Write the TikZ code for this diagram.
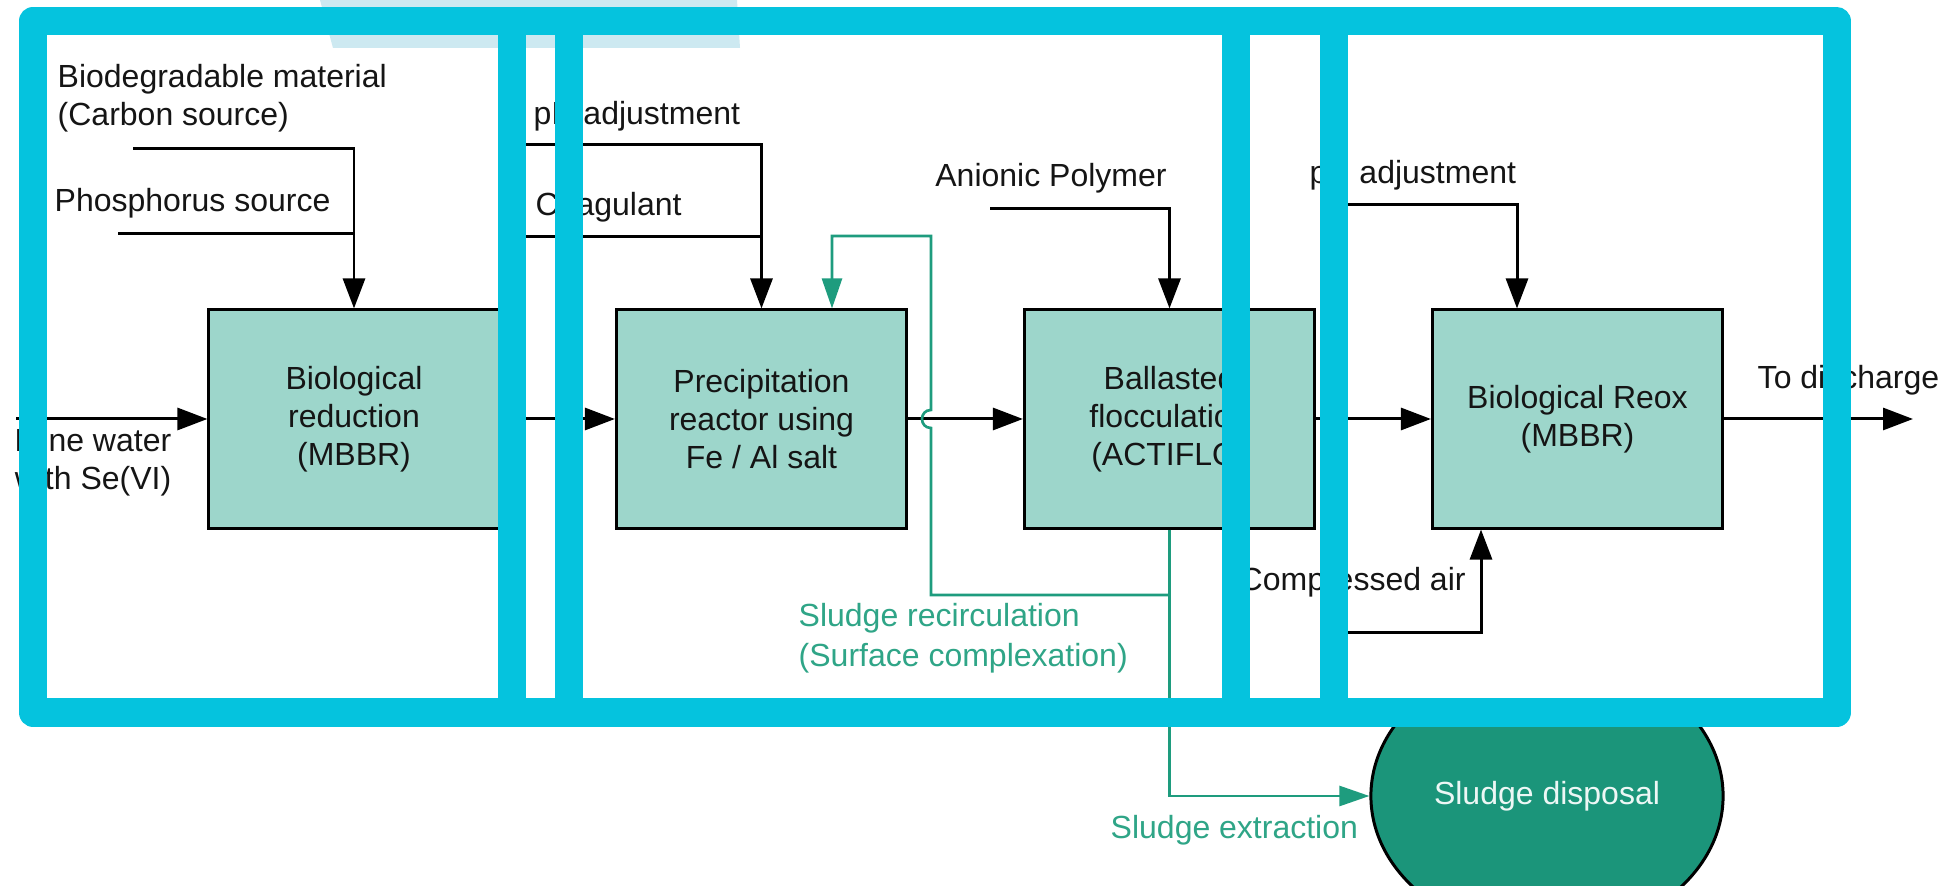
\documentclass[tikz,border=0pt]{standalone}
\usepackage{fontspec}
\setmainfont{Liberation Sans}
\usetikzlibrary{arrows.meta,calc,shapes.geometric}
\definecolor{cyanf}{HTML}{05C3DE}
\definecolor{lightp}{HTML}{CDE9F1}
\definecolor{boxfill}{HTML}{9DD6CB}
\definecolor{gline}{HTML}{1E9C7E}
\definecolor{gtext}{HTML}{2FA587}
\definecolor{sdfill}{HTML}{1B957A}
\definecolor{txt}{HTML}{151515}
\newcommand\dgfont{\fontsize{9.1}{10.8}\selectfont}
\newcommand\dgfontg{\fontsize{9.1}{11.4}\selectfont}
\begin{document}
\begin{tikzpicture}[x=0.01cm,y=-0.01cm,
  box/.style={draw=black, line width=0.85pt, fill=boxfill, minimum width=2.9cm, minimum height=2.18cm, align=center, font=\dgfont, text=txt, inner sep=0pt},
  lbl/.style={font=\dgfont, text=txt, inner sep=0pt},
  glbl/.style={font=\dgfontg, text=gtext, inner sep=0pt},
  ln/.style={line width=0.85pt, draw=black},
  arr/.style={ln, -{Triangle[length=0.3cm,width=0.22cm]}},
  gln/.style={draw=gline, line width=0.75pt},
  garr/.style={gln, -{Triangle[length=0.3cm,width=0.2cm]}},
  band/.style={draw=cyanf, line width=0.28cm}
]
\useasboundingbox[fill=white] (0,0) rectangle (1960,886);
% light patch at top
\fill[lightp] (320,0) -- (737,0) -- (740,48) -- (333,48) -- cycle;

% boxes
\node[box] (b1) at (354,419) {Biological\\reduction\\(MBBR)};
\node[box] (b2) at (761.5,419) {Precipitation\\reactor using\\Fe / Al salt};
\node[box] (b3) at (1169.5,419) {Ballasted\\flocculation\\(ACTIFLO)};
\node[box] (b4) at (1577.5,419) {Biological Reox\\(MBBR)};

% sludge disposal (top hidden)
\begin{scope}
\clip (0,705) rectangle (1960,886);
\node[ellipse, draw=black, line width=0.85pt, fill=sdfill, minimum width=3.52cm, minimum height=2.8cm, inner sep=0pt, font=\dgfont, text=white!92!gline] (sd) at (1547,796) {Sludge disposal};
\end{scope}

% inlet
\node[lbl, align=center] (mw) at (93,462.5) {Mine water\\with Se(VI)};
\coordinate (in) at (16,419);
\draw[arr] (in) -- (b1.west);

% box1 inputs
\node[lbl, align=left, anchor=west] (bm) at (57,98) {Biodegradable material\\(Carbon source)};
\node[lbl, anchor=west] (ps) at (54,203) {Phosphorus source};
\coordinate (c1) at (133,149);
\coordinate (p1) at (118,234);
\draw[arr] (c1) -| (b1.north);
\draw[ln] (p1) -- (p1 -| b1.north);

% box2 inputs
\node[lbl, anchor=west] (ph1) at (533,116) {pH adjustment};
\node[lbl, anchor=west] (co) at (535,207) {Coagulant};
\coordinate (c2) at (505,145);
\coordinate (c3) at (505,237);
\draw[arr] (c2) -| (b2.north);
\draw[ln] (c3) -- (c3 -| b2.north);

% box3 input
\node[lbl] (ap) at (1051,178) {Anionic Polymer};
\coordinate (c4) at (990,209);
\draw[arr] (c4) -| (b3.north);

% box4 inputs
\node[lbl, anchor=west] (ph2) at (1309,175) {pH adjustment};
\coordinate (c5) at (1330,205);
\coordinate (t4) at (1517,0);
\draw[arr] (c5) -| (t4 |- b4.north);
\node[lbl, anchor=west] (ca) at (1239,582) {Compressed air};
\coordinate (c6) at (1335,633);
\coordinate (t5) at (1481,0);
\draw[arr] (c6) -| (t5 |- b4.south);

% main flow
\draw[arr] (b1) -- (b2);
\draw[arr] (b2) -- (b3);
\draw[arr] (b3) -- (b4);
\node[lbl, anchor=west] (td) at (1757,380) {To discharge};
\coordinate (out) at (1913,419);
\draw[arr] (b4.east) -- (out);

% sludge lines
\draw[garr] (b3.south) |- (sd);
\coordinate (g1) at (1169.5,595);
\coordinate (gx) at (832,0);
\draw[garr] (g1) -- (931,595) -- (931,428) .. controls (919,428) and (919,410) .. (931,410) -- (931,236) -| (gx |- b2.north);
\node[glbl, align=left, anchor=west] (sr) at (798,638) {Sludge recirculation\\(Surface complexation)};
\node[glbl, anchor=west] (se) at (1110,830) {Sludge extraction};

% cyan overlay frame
\draw[band, line join=round] (33,21) rectangle (1836.5,712.5);
\foreach \bx in {512,569,1236,1334} \draw[band] (\bx,21) -- (\bx,712.5);
\end{tikzpicture}
\end{document}
